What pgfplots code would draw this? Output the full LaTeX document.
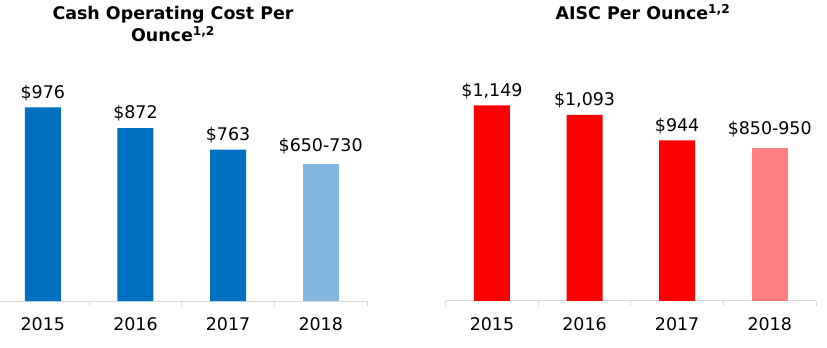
\documentclass[border=0pt]{standalone}
\usepackage{pgfplots}
\pgfplotsset{compat=1.18}
\usepackage{fontspec}
\setmainfont{DejaVu Sans}
\definecolor{cblue}{HTML}{0070C0}
\definecolor{lblue}{HTML}{82B6DE}
\definecolor{cred}{HTML}{FF0000}
\definecolor{lred}{HTML}{FF7F80}
\definecolor{axgray}{HTML}{D9D9D9}
\pgfplotsset{
  panel/.style={
    scale only axis, height=241bp, ymin=0,
    anchor=south west,
    axis y line=none, axis x line*=bottom,
    axis line style={draw=axgray, line width=1bp},
    xmin=-0.5, xmax=3.5,
    xtick={-0.5,0.5,1.5,2.5,3.5},
    x tick label as interval,
    xticklabels={2015,2016,2017,2018},
    xticklabel style={font=\fontsize{17.5}{20}\selectfont, yshift=-8bp},
    tick align=outside, major tick length=5bp,
    every tick/.style={draw=axgray, line width=1bp},
    ybar, bar width=36bp, bar shift=0pt,
    nodes near coords, point meta=explicit symbolic,
    every node near coord/.append style={font=\fontsize{17.5}{20}\selectfont, yshift=3bp},
    /pgf/number format/assume math mode=true,
    clip=false,
  }
}
\begin{document}
\begin{tikzpicture}
\path[use as bounding box] (0,0) rectangle (827bp,348bp);
\begin{axis}[panel, at={(-3.5bp,47bp)}, width=370.5bp, ymax=1215]
\addplot[fill=cblue, draw=none] coordinates {(0,976) [\$976] (1,872) [\$872] (2,763) [\$763]};
\addplot[fill=lblue, draw=none, every node near coord/.append style={yshift=4bp}] coordinates {(3,690) [\$650-730]};
\end{axis}
\begin{axis}[panel, at={(445.7bp,47bp)}, width=370.3bp, ymax=1416]
\addplot[fill=cred, draw=none] coordinates {(0,1149) [\$1,149] (1,1093) [\$1,093] (2,944) [\$944]};
\addplot[fill=lred, draw=none, every node near coord/.append style={yshift=4bp}] coordinates {(3,900) [\$850-950]};
\end{axis}
\node[font=\bfseries\fontsize{17.5}{22}\selectfont, align=center] at (173bp,324bp) {Cash Operating Cost Per\\Ounce\textsuperscript{1,2}};
\node[font=\bfseries\fontsize{17.5}{22}\selectfont] at (643bp,336bp) {AISC Per Ounce\textsuperscript{1,2}};
\end{tikzpicture}
\end{document}
